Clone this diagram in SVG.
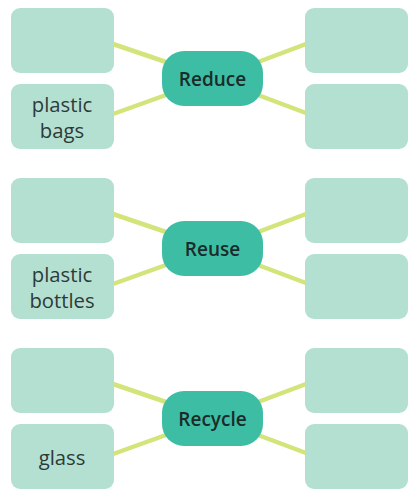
<svg xmlns="http://www.w3.org/2000/svg" width="419" height="491" viewBox="0 0 419 491">
<style>
.box{fill:#b4e0d2}
.hub{fill:#3dbea4}
.con{stroke:#d3e47a;stroke-width:4.5;stroke-linecap:round;fill:none}
.lbl{font-family:"Open Sans",Lato,sans-serif;font-size:20.3px;fill:#2e3a38;text-anchor:middle}
.hl{font-family:"Open Sans",Lato,sans-serif;font-size:19px;font-weight:600;fill:#1b2b29;text-anchor:middle}
</style>
<rect width="419" height="491" fill="#ffffff"/>
<g id="connectors">
<path class="con" d="M113,44 L166,62 M113,114 L166,95 M258,62 L306,44 M258,95 L306,113"/>
<path class="con" d="M113,214 L166,232 M113,284 L166,265 M258,232 L306,214 M258,265 L306,283"/>
<path class="con" d="M113,384 L166,402 M113,454 L166,435 M258,402 L306,384 M258,435 L306,453"/>
</g>
<g id="reduce-tl"><rect class="box" x="11" y="8" width="103" height="65" rx="9"/></g>
<g id="reduce-bl"><rect class="box" x="11" y="84" width="103" height="65" rx="9"/><text class="lbl" x="62" y="111.5">plastic</text><text class="lbl" x="62" y="137.5">bags</text></g>
<g id="reduce-tr"><rect class="box" x="305" y="8" width="103" height="65" rx="9"/></g>
<g id="reduce-br"><rect class="box" x="305" y="84" width="103" height="65" rx="9"/></g>
<g id="reduce"><rect class="hub" x="162" y="51" width="101" height="55" rx="22"/><text class="hl" x="212.5" y="85.5">Reduce</text></g>

<g id="reuse-tl"><rect class="box" x="11" y="178" width="103" height="65" rx="9"/></g>
<g id="reuse-bl"><rect class="box" x="11" y="254" width="103" height="65" rx="9"/><text class="lbl" x="62" y="281.5">plastic</text><text class="lbl" x="62" y="307.5">bottles</text></g>
<g id="reuse-tr"><rect class="box" x="305" y="178" width="103" height="65" rx="9"/></g>
<g id="reuse-br"><rect class="box" x="305" y="254" width="103" height="65" rx="9"/></g>
<g id="reuse"><rect class="hub" x="162" y="221" width="101" height="55" rx="22"/><text class="hl" x="212.5" y="255.5">Reuse</text></g>

<g id="recycle-tl"><rect class="box" x="11" y="348" width="103" height="65" rx="9"/></g>
<g id="recycle-bl"><rect class="box" x="11" y="424" width="103" height="65" rx="9"/><text class="lbl" x="62" y="464.5">glass</text></g>
<g id="recycle-tr"><rect class="box" x="305" y="348" width="103" height="65" rx="9"/></g>
<g id="recycle-br"><rect class="box" x="305" y="424" width="103" height="65" rx="9"/></g>
<g id="recycle"><rect class="hub" x="162" y="391" width="101" height="55" rx="22"/><text class="hl" x="212.5" y="425.5">Recycle</text></g>
</svg>
